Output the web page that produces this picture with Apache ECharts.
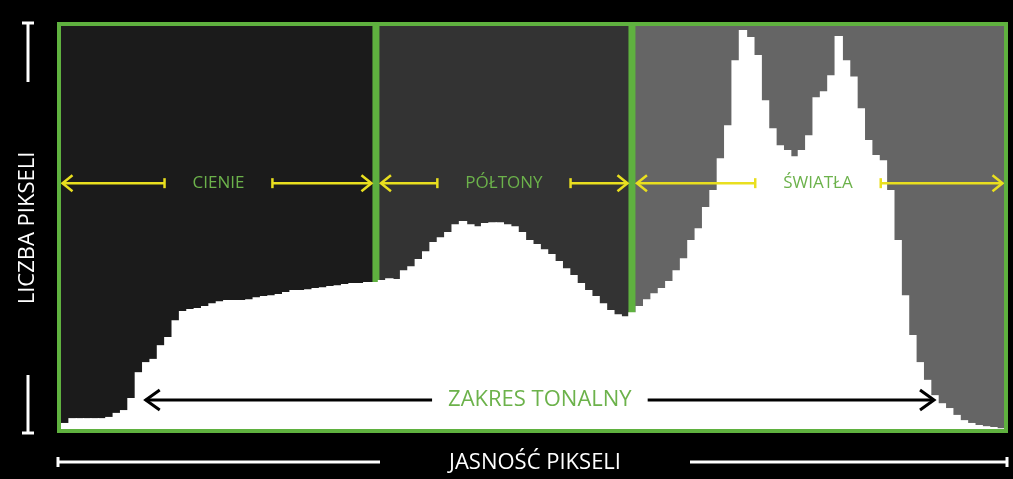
<!DOCTYPE html>
<html><head><meta charset="utf-8">
<script src="https://cdn.jsdelivr.net/npm/echarts@6/dist/echarts.min.js"></script>
<style>html,body{margin:0;padding:0;background:#000}#c{width:1013px;height:479px}</style>
</head><body><div id="c"></div>
<script>
// Histogram (pixel counts per brightness bin of width 2, relative scale 0..1000)
const counts = [15,27,27,27,27,27,30,40,47,77,
  141,166,174,208,228,270,293,298,300,305,
  312,317,320,320,320,322,327,330,332,335,
  340,345,345,347,350,352,355,357,360,362,
  362,365,365,370,374,372,394,404,422,441,
  464,476,489,508,516,508,503,511,513,513,
  508,503,489,469,459,446,434,417,399,382,
  362,345,330,312,295,285,280,290,305,322,
  337,350,367,394,424,469,498,551,593,672,
  754,915,990,973,928,816,746,704,692,677,
  692,729,823,838,878,975,915,875,796,717,
  680,667,593,469,332,233,166,122,84,64,
  52,35,22,15,10,7,5,2];
const BIN = 2;
const brightness = counts.map((_, i) => i * BIN);
const zoneNames = ['CIENIE', 'PÓŁTONY', 'ŚWIATŁA'];
const zoneEdges = [0, 85.5, 155, 256];
const tonalName = 'ZAKRES TONALNY';
const tonalSpan = [23, 237];
const xTitle = 'JASNOŚĆ PIKSELI';
const yTitle = 'LICZBA PIKSELI';

const GREEN = '#5fb13f', TEXTGREEN = '#6cb24b', YELLOW = '#e9df1f';
const zoneFill = ['#1b1b1b', '#333333', '#656565'];
const YMAX = 1000;
const ZONE_LEVEL = 610, TONAL_LEVEL = 72;
const zoneFont = '17px "Open Sans"';
const bigFont = '22px "Open Sans"';
const mctx = document.createElement('canvas').getContext('2d');
function tw(text, font) { mctx.font = font; return mctx.measureText(text).width; }
function chevron(x, y, dir, len, half, color, w) {
  return { type: 'polyline', shape: { points: [[x + dir * len, y - half], [x, y], [x + dir * len, y + half]] },
    style: { stroke: color, lineWidth: w, fill: null } };
}
function hline(x1, x2, y, color, w) {
  return { type: 'line', shape: { x1: x1, y1: y, x2: x2, y2: y }, style: { stroke: color, lineWidth: w } };
}
function vline(x, y1, y2, color, w) {
  return { type: 'line', shape: { x1: x, y1: y1, x2: x, y2: y2 }, style: { stroke: color, lineWidth: w } };
}

const W = 1013, H = 479;
const G = { left: 61, right: 9, top: 26, bottom: 50 };
const chart = echarts.init(document.getElementById('c'), null, { renderer: 'canvas' });
const zoneData = zoneNames.map((n, i) => [zoneEdges[i], zoneEdges[i + 1], i]);
const histData = counts.map((c, i) => [brightness[i], c]);

chart.setOption({
  backgroundColor: '#000',
  animation: false,
  grid: { left: G.left, right: G.right, top: G.top, bottom: G.bottom },
  xAxis: { type: 'value', min: 0, max: 256, show: false },
  yAxis: { type: 'value', min: 0, max: YMAX, show: false },
  series: [
    {
      type: 'custom', z: 1, clip: false,
      data: zoneData,
      renderItem: function (params, api) {
        const i = api.value(2);
        const p0 = api.coord([api.value(0), YMAX]);
        const p1 = api.coord([api.value(1), 0]);
        const ch = [{ type: 'rect', shape: { x: p0[0], y: p0[1], width: p1[0] - p0[0], height: p1[1] - p0[1] }, style: { fill: zoneFill[i] } }];
        if (i > 0) ch.push({ type: 'rect', shape: { x: p0[0] - 3.5, y: p0[1], width: 7, height: p1[1] - p0[1] }, style: { fill: GREEN } });
        return { type: 'group', children: ch };
      }
    },
    {
      type: 'custom', z: 2, clip: true,
      data: histData,
      renderItem: function (params, api) {
        const b = api.value(0);
        const p0 = api.coord([b, api.value(1)]);
        const p1 = api.coord([b + BIN, 0]);
        return { type: 'rect', shape: { x: p0[0], y: p0[1], width: p1[0] - p0[0] + 1, height: p1[1] - p0[1] },
          style: { fill: '#fff' } };
      }
    },
    {
      type: 'custom', z: 3, clip: false,
      data: zoneData,
      renderItem: function (params, api) {
        const i = api.value(2);
        const x0 = api.coord([api.value(0), 0])[0];
        const x1 = api.coord([api.value(1), 0])[0];
        const y = api.coord([0, ZONE_LEVEL])[1];
        const name = zoneNames[i];
        const cx = (x0 + x1) / 2;
        const hs = tw(name, zoneFont) / 2 + 28;
        const lt = x0 + (i > 0 ? 5 : 1.5);
        const rt = x1 - (i < zoneNames.length - 1 ? 4.5 : 1.5);
        return { type: 'group', children: [
          hline(lt, cx - hs, y, YELLOW, 2.5),
          hline(cx + hs, rt, y, YELLOW, 2.5),
          vline(cx - hs, y - 5, y + 5, YELLOW, 2.5),
          vline(cx + hs, y - 5, y + 5, YELLOW, 2.5),
          chevron(lt, y, 1, 10, 8, YELLOW, 2.5),
          chevron(rt, y, -1, 10, 8, YELLOW, 2.5),
          { type: 'text', style: { text: name, x: cx, y: y, fill: TEXTGREEN, font: zoneFont, align: 'center', verticalAlign: 'middle' } }
        ] };
      }
    },
    {
      type: 'custom', z: 3, clip: false,
      data: [[tonalSpan[0], tonalSpan[1]]],
      renderItem: function (params, api) {
        const x0 = api.coord([api.value(0), 0])[0];
        const x1 = api.coord([api.value(1), 0])[0];
        const y = api.coord([0, TONAL_LEVEL])[1];
        const cx = (x0 + x1) / 2;
        const hs = tw(tonalName, bigFont) / 2 + 16;
        return { type: 'group', children: [
          hline(x0, cx - hs, y, '#000', 3),
          hline(cx + hs, x1, y, '#000', 3),
          chevron(x0, y, 1, 14, 10, '#000', 3),
          chevron(x1, y, -1, 14, 10, '#000', 3),
          { type: 'text', style: { text: tonalName, x: cx, y: y, fill: TEXTGREEN, font: bigFont, align: 'center', verticalAlign: 'middle' } }
        ] };
      }
    }
  ],
  graphic: [
    { type: 'rect', z: 100, shape: { x: G.left - 2, y: G.top - 2, width: W - G.left - G.right + 4, height: H - G.top - G.bottom + 4 },
      style: { fill: null, stroke: GREEN, lineWidth: 4 } },
    { type: 'text', z: 100, x: 28, y: 228, rotation: Math.PI / 2,
      style: { text: yTitle, x: 0, y: 0, fill: '#fff', font: bigFont, align: 'center', verticalAlign: 'middle' } },
    { type: 'text', z: 100, style: { text: xTitle, x: 535, y: 463, fill: '#fff', font: bigFont, align: 'center', verticalAlign: 'middle' } },
    Object.assign({ z: 100 }, vline(28, 23, 82, '#fff', 3)),
    Object.assign({ z: 100 }, hline(22, 34, 23, '#fff', 3)),
    Object.assign({ z: 100 }, vline(28, 375, 433, '#fff', 3)),
    Object.assign({ z: 100 }, hline(22, 34, 433, '#fff', 3)),
    Object.assign({ z: 100 }, hline(58, 380, 462, '#fff', 3)),
    Object.assign({ z: 100 }, vline(58, 457, 467, '#fff', 3)),
    Object.assign({ z: 100 }, hline(690, 1007, 462, '#fff', 3)),
    Object.assign({ z: 100 }, vline(1007, 457, 467, '#fff', 3))
  ]
});
</script></body></html>
